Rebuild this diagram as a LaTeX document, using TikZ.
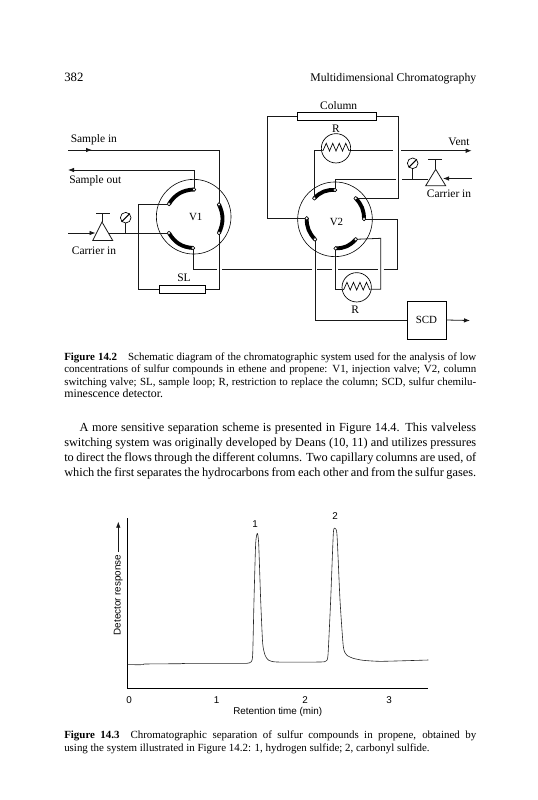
\documentclass[tikz,border=0pt]{standalone}
\usepackage{fontspec}
\setmainfont{Liberation Serif}
\newfontfamily\chartfont{Liberation Sans}
\usetikzlibrary{arrows.meta}
\newcommand{\bodyline}[1]{\hbox to 309pt{#1}}
\tikzset{
  wire/.style={line width=0.6pt,black!90},
  flow/.style={wire,-{Latex[length=4.5pt,width=3.4pt]}},
  valve/.style={circle,draw,line width=0.45pt,minimum size=56pt,inner sep=0},
  restrictor/.style={circle,draw,line width=0.5pt,minimum size=22pt,inner sep=0},
  gauge/.style={circle,draw,line width=0.5pt,minimum size=8pt,inner sep=0},
  loopbox/.style={draw,line width=0.55pt,inner sep=0,fill=white},
  port/.style={circle,draw,line width=0.4pt,fill=white,minimum size=2.8pt,inner sep=0},
  rotor/.style={line width=2.9pt,line cap=round},
  lbl/.style={inner sep=0,font=\fontsize{8.6}{10}\selectfont},
  chartlbl/.style={inner sep=0,font=\chartfont\fontsize{7.4}{9}\selectfont},
  capline/.style={anchor=base west,inner sep=0,font=\fontsize{8.2}{10}\selectfont},
  bodytext/.style={anchor=base west,inner sep=0,font=\fontsize{9.25}{11}\selectfont},
  headtext/.style={anchor=base,inner sep=0,font=\fontsize{9.55}{11}\selectfont},
  pics/zz/.style={code={\draw[line width=0.5pt] (-14,2.3)--(-13,2.3)--(-9.75,-5)--(-6.5,2.7)--(-3.25,-5)--(0,2.7)--(3.25,-5)--(6.5,2.7)--(9.75,-5)--(13,2.3)--(14,2.3);}}
}
\begin{document}
\begin{tikzpicture}[x=0.75pt,y=-0.75pt]
\useasboundingbox (0,0) rectangle (537,800);
\fill[white] (0,0) rectangle (537,800);
% header
\node[headtext,anchor=base west] (pageno) at (64,81) {382};
\node[headtext,anchor=base east,font=\fontsize{8.8}{11}\selectfont] (runhead) at (476.5,81) {Multidimensional Chromatography};
% valves
\node[valve] (V1) at (193.7,216.7) {};
\node[valve] (V2) at (335,219.3) {};
\node[inner sep=0,font=\fontsize{8.2}{10}\selectfont] (V1t) at (195.7,216.5) {V1};
\node[inner sep=0,font=\fontsize{8.2}{10}\selectfont] (V2t) at (336.5,221.5) {V2};
% ports
\coordinate (a1) at (194,189.5);
\coordinate (a2) at (169,204);
\coordinate (a3) at (219,204.5);
\coordinate (a4) at (219,233);
\coordinate (a5) at (169,233);
\coordinate (a6) at (193,248);
\coordinate (b1) at (335,190);
\coordinate (b2) at (314.3,198.3);
\coordinate (b3) at (355.7,198.3);
\coordinate (b4) at (364,219);
\coordinate (b5) at (306.7,218.3);
\coordinate (b6) at (315,239.3);
\coordinate (b7) at (335.7,248.3);
\coordinate (b8) at (355.7,239.3);
% rotor arcs
\draw[rotor] (a2) to[bend left=28] (a1);
\draw[rotor] (a3) to[bend left=25] (a4);
\draw[rotor] (a5) to[bend right=28] (a6);
\draw[rotor] (b2) to[bend left=25] (b1);
\draw[rotor] (b3) to[bend left=22] (b4);
\draw[rotor] (b5) to[bend right=22] (b6);
\draw[rotor] (b7) to[bend right=25] (b8);
% sample lines
\coordinate (sinL) at (68,150);
\coordinate (sinM) at (92,150);
\coordinate (sinC) at (219,150);
\coordinate (soutL) at (68,170);
\coordinate (soutC) at (194,170);
\draw[wire] (sinL) -- (sinC) -- (a3);
\draw[flow] (sinL) -- (sinM);
\draw[wire] (a1) -- (soutC);
\draw[flow] (soutC) -- (soutL);
\node[lbl,anchor=west] (sinT) at (70.5,140) {Sample in};
\node[lbl,anchor=west] (soutT) at (69,181) {Sample out};
% left carrier
\coordinate (lcA) at (102,222);
\coordinate (lcB) at (92.7,240.5);
\coordinate (lcC) at (112.7,240.5);
\coordinate (lcT) at (102,213);
\coordinate (lcTl) at (96,213);
\coordinate (lcTr) at (110,213);
\coordinate (lcIn) at (68,233);
\coordinate (lcOut) at (95.5,233);
\coordinate (lcSide) at (109,233);
\coordinate (lcG) at (125.7,233);
\draw[wire] (lcA) -- (lcB) -- (lcC) -- cycle;
\draw[wire] (lcTl) -- (lcTr) (lcT) -- (lcA);
\draw[flow] (lcIn) -- (lcOut);
\draw[wire] (lcSide) -- (a5);
\node[gauge] (g1) at (125.7,217.7) {};
\draw[wire] (g1) -- (lcG);
\draw[line width=0.8pt] (g1.south west) -- (g1.north east);
\node[lbl] (lcText) at (94,251) {Carrier in};
% sample loop
\node[loopbox,minimum width=34.8pt,minimum height=6pt] (SL) at (182.5,289.3) {};
\node[lbl] (SLt) at (184,277.7) {SL};
\draw[wire] (a2) -| (138,289.3) -- (SL.west);
\draw[wire] (a4) -- (219,289.3) -- (SL.east);
% crossover line
\coordinate (x0) at (193,269.3);
\coordinate (x1) at (217,269.3);
\coordinate (x2) at (222,269.3);
\coordinate (x3) at (311.7,269.3);
\coordinate (x4) at (317,269.3);
\coordinate (x5) at (332.2,269.3);
\coordinate (x6) at (338,269.3);
\coordinate (x7) at (377.7,269.3);
\coordinate (x8) at (383.5,269.3);
\coordinate (x9) at (397.3,269.3);
\draw[wire] (a6) -- (x0) -- (x1);
\draw[wire] (x2) -- (x3) (x4) -- (x5) (x6) -- (x7);
\draw[wire] (x8) -- (x9) |- (b4);
% column
\node[loopbox,minimum width=59.2pt,minimum height=6.2pt] (COL) at (337.2,116.2) {};
\node[lbl] (COLt) at (338.7,106) {Column};
\draw[wire] (COL.west) -| (267.3,218.3) -- (b5);
\draw[wire] (COL.east) -| (398,198.3) -- (b3);
% top restrictor
\node[restrictor] (R1) at (336,148.3) {};
\pic at (R1) {zz};
\node[lbl] (R1t) at (336,128.3) {R};
\coordinate (r1L) at (321.5,150.7);
\coordinate (r1R) at (350.5,150.7);
\coordinate (v0) at (393.3,150.7);
\coordinate (v1) at (401,150.7);
\coordinate (v2) at (471.7,150.7);
\draw[wire] (b2) |- (r1L);
\draw[wire] (r1R) -- (v0);
\draw[flow] (v1) -- (v2);
\node[lbl] (Ventt) at (459,141.7) {Vent};
% right carrier
\coordinate (rcA) at (435.7,169.3);
\coordinate (rcB) at (425.7,185.7);
\coordinate (rcC) at (445.7,185.7);
\coordinate (rcT) at (435.7,159.3);
\coordinate (rcTl) at (428,159.3);
\coordinate (rcTr) at (442,159.3);
\coordinate (rcIn) at (471.7,178.5);
\coordinate (rcOut) at (443,178.5);
\coordinate (rcL) at (427.5,179);
\coordinate (rcG) at (412.7,179);
\coordinate (t0) at (396,179);
\coordinate (t1) at (402.3,179);
\draw[wire] (rcA) -- (rcB) -- (rcC) -- cycle;
\draw[wire] (rcTl) -- (rcTr) (rcT) -- (rcA);
\draw[flow] (rcIn) -- (rcOut);
\draw[wire] (t1) -- (rcL);
\draw[wire] (b1) |- (t0);
\node[gauge] (g2) at (412.7,163.3) {};
\draw[wire] (g2) -- (rcG);
\draw[line width=0.8pt] (g2.south west) -- (g2.north east);
\node[lbl] (rcText) at (449,193.7) {Carrier in};
% bottom restrictor
\node[restrictor] (R2) at (356.7,287.3) {};
\pic at (R2) {zz};
\node[lbl] (R2t) at (355.3,310) {R};
\coordinate (r2L) at (342.2,289.3);
\coordinate (r2R) at (371.2,289.3);
\draw[wire] (b7) |- (r2L);
\draw[wire] (r2R) -| (380.7,238.3) -- (b8);
% SCD
\node[draw,line width=0.55pt,inner sep=0,minimum width=29.2pt,minimum height=28.7pt,font=\fontsize{8.2}{10}\selectfont] (SCD) at (426.5,320) {SCD};
\coordinate (scdOut) at (470,320.5);
\draw[wire] (b6) |- (SCD.west);
\draw[flow] (SCD.east) -- (scdOut);
% port markers
\foreach \p in {a1,a2,a3,a4,a5,a6,b1,b2,b3,b4,b5,b6,b7,b8}{\node[port] (\p m) at (\p) {};}
% captions and body
\node[capline] (c1) at (64,360) {\bodyline{\textbf{Figure 14.2}\hskip 1em Schematic diagram of the chromatographic system used for the analysis of low}};
\node[capline] (c2) at (64,372.5) {\bodyline{concentrations of sulfur compounds in ethene and propene: V1, injection valve; V2, column}};
\node[capline] (c3) at (64,385) {\bodyline{switching valve; SL, sample loop; R, restriction to replace the column; SCD, sulfur chemilu-}};
\node[capline,font=\fontsize{8.9}{10}\selectfont] (c4) at (64,397.5) {minescence detector.};
\node[bodytext] (p1) at (79.3,431.5) {\hbox to 297.5pt{A more sensitive separation scheme is presented in Figure 14.4. This valveless}};
\node[bodytext] (p2) at (64,446.8) {\bodyline{switching system was originally developed by Deans (10, 11) and utilizes pressures}};
\node[bodytext] (p3) at (64,461.6) {\bodyline{to direct the flows through the different columns. Two capillary columns are used, of}};
\node[bodytext] (p4) at (64,476.5) {\bodyline{which the first separates the hydrocarbons from each other and from the sulfur gases.}};
% chart
\coordinate (yTop) at (127.7,518.3);
\coordinate (origin) at (127.7,688.3);
\coordinate (xEnd) at (428.3,688.3);
\draw[line width=0.6pt] (yTop) -- (origin) -- (xEnd);
\begin{scope}[shift={(90,500)},x=0.25pt,y=-0.25pt]
\draw[line width=0.45pt,black!85,line join=round] plot[smooth,tension=0.35] coordinates {(113,494) (160,494) (165,492) (280,491) (282,490) (430,490) (470,490) (483,486) (488,465) (492,300) (497,130) (502,100) (506,130) (512,300) (518,430) (525,465) (535,480) (560,486) (690,486) (708,483) (714,465) (722,300) (730,100) (735,85) (741,105) (750,300) (760,440) (770,465) (790,475) (820,481) (870,484) (950,482) (1015,480)};
\end{scope}
\node[chartlbl] (pk1) at (255,524) {1};
\node[chartlbl] (pk2) at (335,515.7) {2};
\node[chartlbl] (t0l) at (129,700) {0};
\node[chartlbl] (t1l) at (216.7,700) {1};
\node[chartlbl] (t2l) at (305,700) {2};
\node[chartlbl] (t3l) at (389,700) {3};
\node[chartlbl] (xlab) at (277.7,712.3) {Retention time (min)};
\node[chartlbl,rotate=90] (ylab) at (118.3,595) {Detector response};
\coordinate (yArrowEnd) at (118.3,521.7);
\coordinate (yArrowStart) at (118.3,551.7);
\draw[flow,line width=0.5pt] (yArrowStart) -- (yArrowEnd);
\node[capline] (d1) at (64,738.5) {\bodyline{\textbf{Figure 14.3}\hskip 1em Chromatographic separation of sulfur compounds in propene, obtained by}};
\node[capline] (d2) at (64,751) {using the system illustrated in Figure 14.2: 1, hydrogen sulfide; 2, carbonyl sulfide.};
\end{tikzpicture}
\end{document}
